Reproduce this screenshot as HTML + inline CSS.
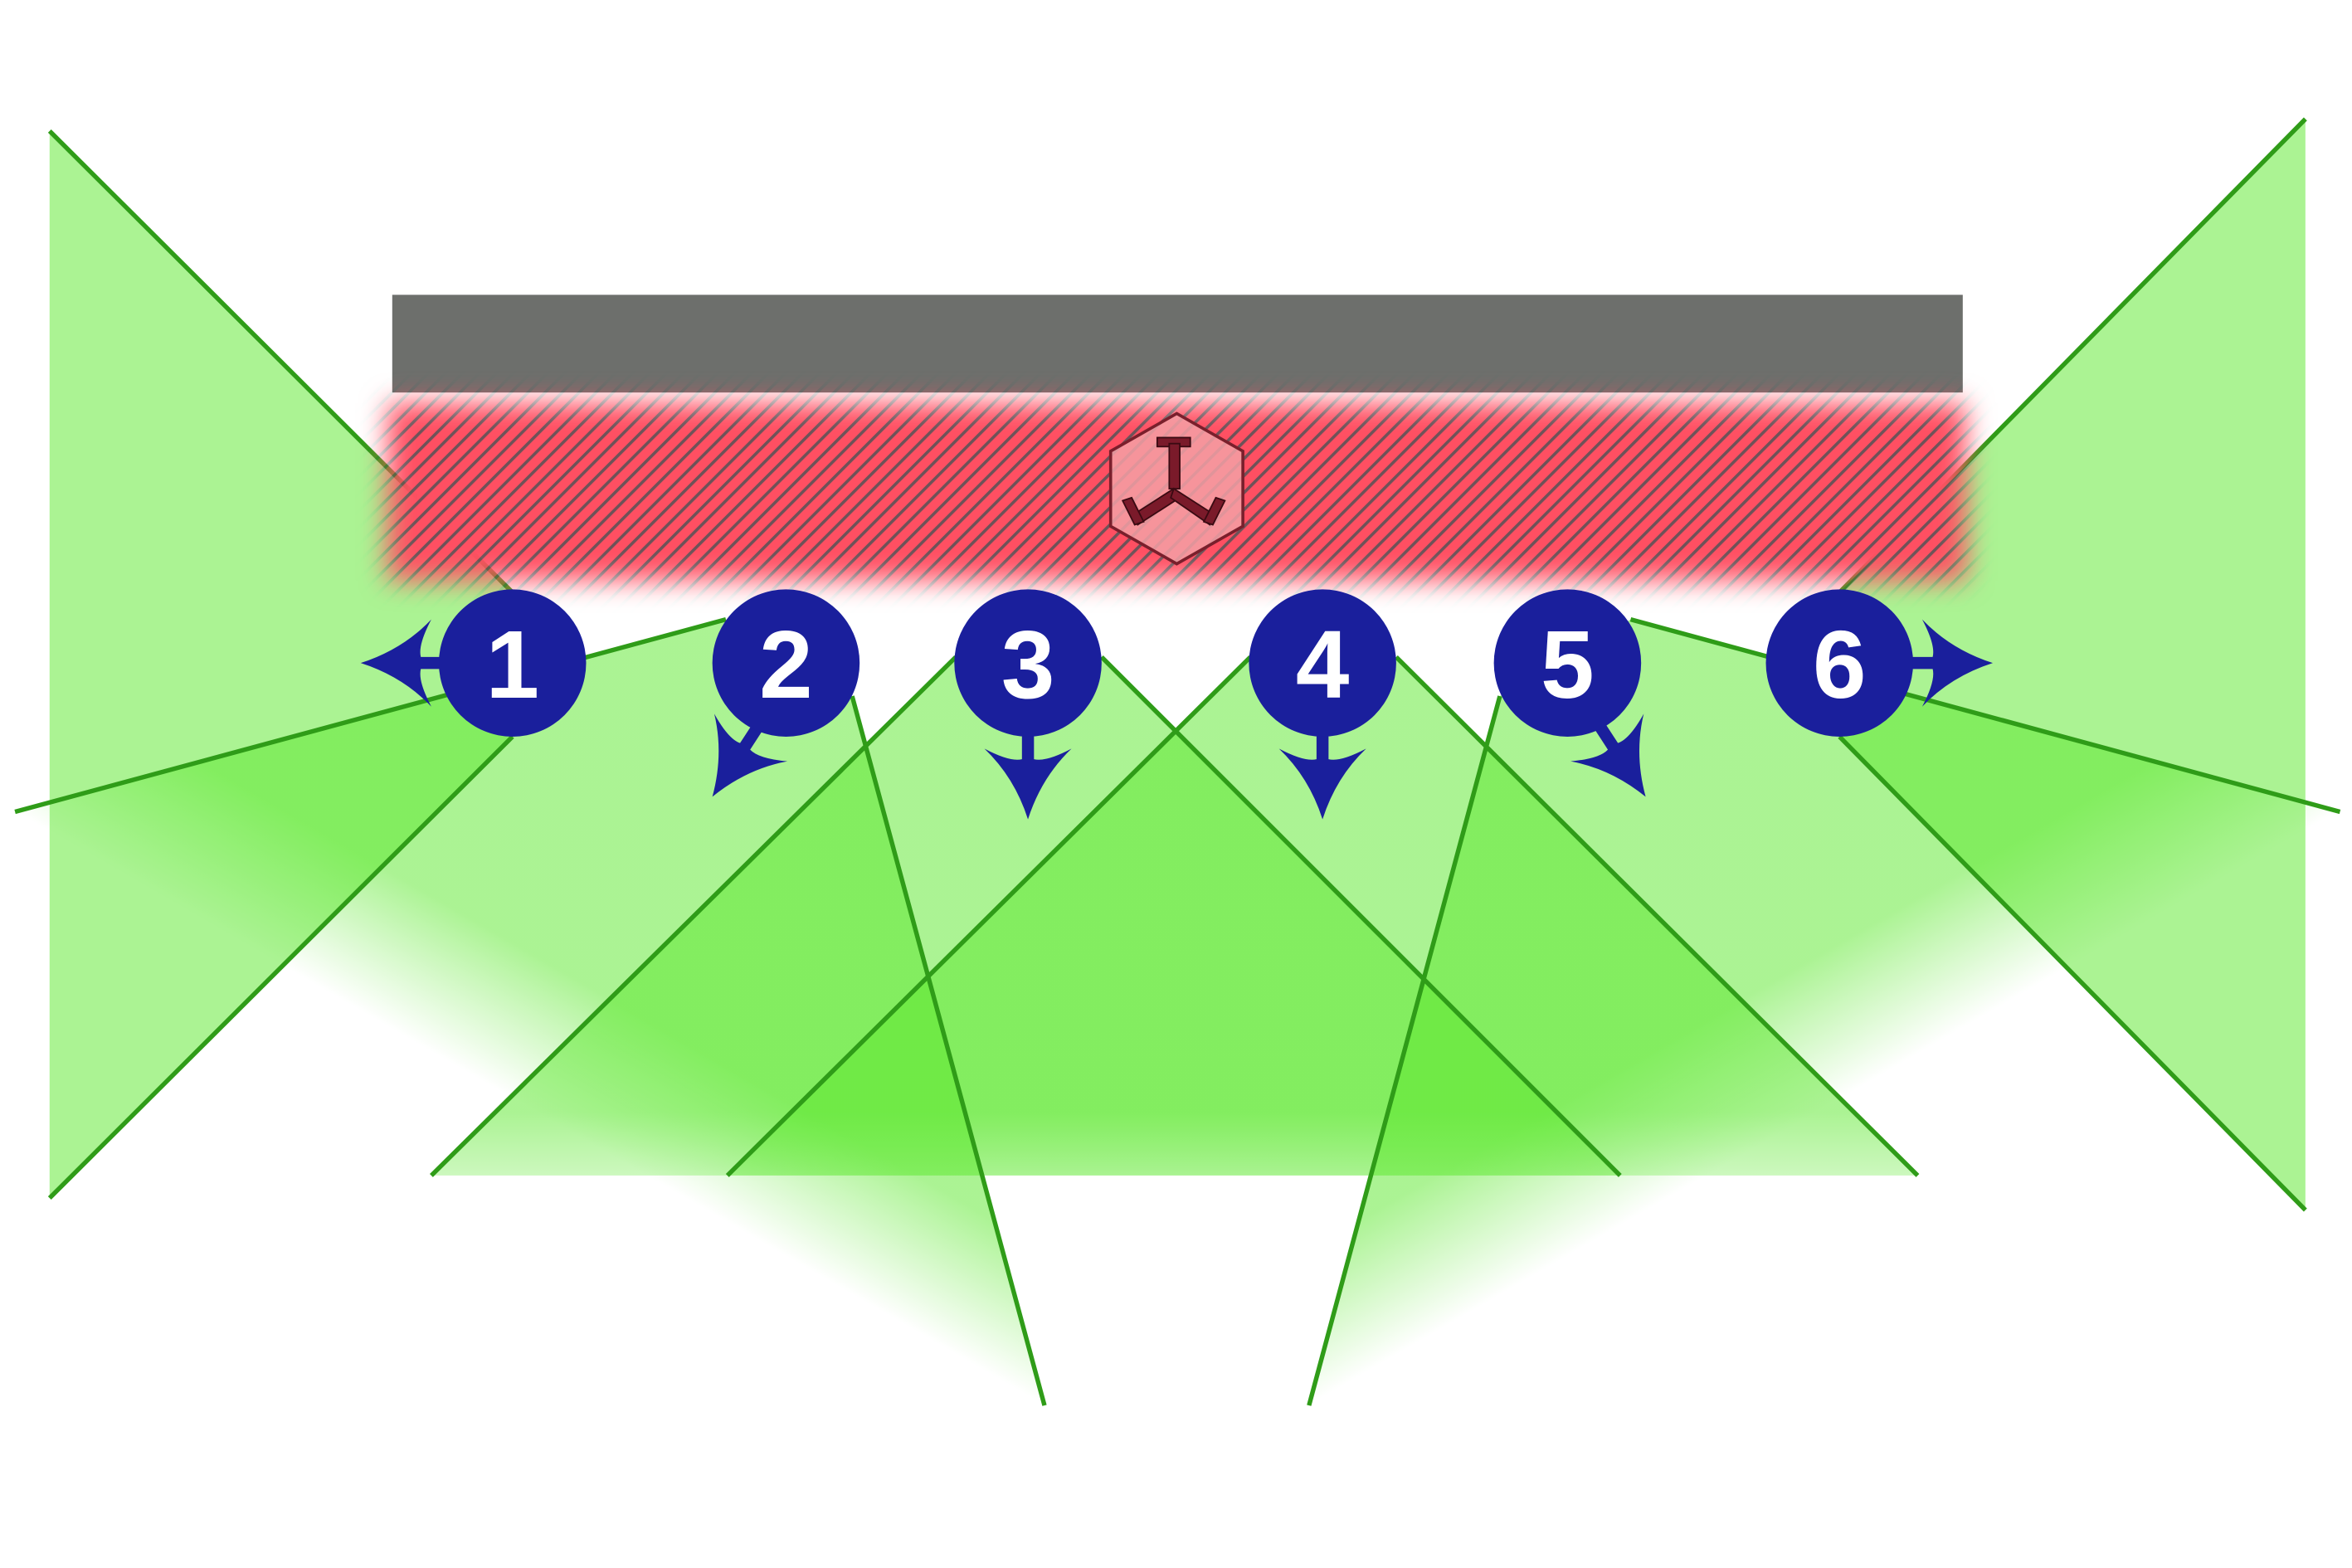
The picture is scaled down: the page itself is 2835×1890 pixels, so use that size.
<!DOCTYPE html>
<html><head><meta charset="utf-8"><style>
html,body{margin:0;padding:0;background:#fff}
svg{display:block}
</style></head><body>
<svg width="2835" height="1890" viewBox="0 0 1565 1043" xmlns="http://www.w3.org/2000/svg">
<defs>
<pattern id="stripes" patternUnits="userSpaceOnUse" width="8" height="8" patternTransform="rotate(-45)">
<rect width="8" height="8" fill="#ff4f62"/>
<rect width="8" height="2" fill="#6e5258"/>
</pattern>
<filter id="blur" x="-10%" y="-30%" width="120%" height="160%"><feGaussianBlur stdDeviation="9"/></filter>
<mask id="bandMask"><rect x="258" y="268" width="1050" height="118" fill="#fff" filter="url(#blur)"/></mask>
<linearGradient id="gDown" gradientUnits="userSpaceOnUse" x1="0" y1="740" x2="0" y2="785">
<stop offset="0" stop-color="#5ee830" stop-opacity="0.52"/><stop offset="1" stop-color="#5ee830" stop-opacity="0.3"/></linearGradient>
<linearGradient id="gL" gradientUnits="userSpaceOnUse" x1="397" y1="659" x2="352" y2="737">
<stop offset="0" stop-color="#5ee830" stop-opacity="0.52"/><stop offset="1" stop-color="#5ee830" stop-opacity="0"/></linearGradient>
<linearGradient id="gR" gradientUnits="userSpaceOnUse" x1="1169" y1="659" x2="1214" y2="737">
<stop offset="0" stop-color="#5ee830" stop-opacity="0.52"/><stop offset="1" stop-color="#5ee830" stop-opacity="0"/></linearGradient>
<path id="arrow" d="M0,0 Q-28,-9 -47,-29 Q-38,-12 -40,-4 L-58,-4 L-58,4 L-40,4 Q-38,12 -47,29 Q-28,9 0,0Z" fill="#1a1f9c"/>
</defs>

<rect x="261" y="196" width="1045" height="65" fill="#6d6f6c"/>

<g>
<polygon points="33,87 341,394 341,490 33,797" fill="#5ee830" fill-opacity="0.52"/>
<polygon points="1534,79 1224,394 1224,490 1534,805" fill="#5ee830" fill-opacity="0.52"/>
<polygon points="483,412 10,540 695,935 567,463" fill="url(#gL)"/>
<polygon points="1085,412 1557,540 871,935 998,463" fill="url(#gR)"/>
<polygon points="636,437 287,782 1078,782 733,437" fill="url(#gDown)"/>
<polygon points="832,437 484,782 1276,782 929,437" fill="url(#gDown)"/>
</g>
<g stroke="#2f9c18" stroke-width="3" fill="none">
<line x1="33" y1="87" x2="341" y2="394"/><line x1="341" y1="490" x2="33" y2="797"/>
<line x1="1534" y1="79" x2="1224" y2="394"/><line x1="1224" y1="490" x2="1534" y2="805"/>
<line x1="483" y1="412" x2="10" y2="540"/><line x1="567" y1="463" x2="695" y2="935"/>
<line x1="1085" y1="412" x2="1557" y2="540"/><line x1="998" y1="463" x2="871" y2="935"/>
<line x1="636" y1="437" x2="287" y2="782"/><line x1="733" y1="437" x2="1078" y2="782"/>
<line x1="832" y1="437" x2="484" y2="782"/><line x1="929" y1="437" x2="1276" y2="782"/>
</g>

<rect x="230" y="240" width="1105" height="170" fill="url(#stripes)" mask="url(#bandMask)"/>

<g transform="translate(783,325)">
<polygon points="0,-50 44,-25 44,25 0,50 -44,25 -44,-25" fill="#f4a0a6" fill-opacity="0.85" stroke="#7a1f2c" stroke-width="2"/>
<g fill="#7a1a2a" stroke="#3a0a12" stroke-width="1">
<rect x="-13" y="-34" width="22" height="6"/>
<rect x="-5" y="-30" width="7" height="30"/>
<polygon points="-2,0 -30,18 -26,24 2,6"/>
<polygon points="-2,0 26,18 22,24 -4,6"/>
<polygon points="-36,8 -30,6 -22,22 -28,24"/>
<polygon points="32,8 26,6 18,22 24,24"/>
</g>
</g>

<g>
<use href="#arrow" transform="translate(240,441) rotate(180)"/>
<use href="#arrow" transform="translate(474,530) rotate(123)"/>
<use href="#arrow" transform="translate(684,545) rotate(90)"/>
<use href="#arrow" transform="translate(880,545) rotate(90)"/>
<use href="#arrow" transform="translate(1095,530) rotate(57)"/>
<use href="#arrow" transform="translate(1326,441)"/>
</g>

<g font-family="Liberation Sans, sans-serif" font-weight="bold" font-size="64" fill="#fff" text-anchor="middle">
<g><circle cx="341" cy="441" r="49" fill="#1a1f9c"/><text x="341" y="464">1</text></g>
<g><circle cx="523" cy="441" r="49" fill="#1a1f9c"/><text x="523" y="464">2</text></g>
<g><circle cx="684" cy="441" r="49" fill="#1a1f9c"/><text x="684" y="464">3</text></g>
<g><circle cx="880" cy="441" r="49" fill="#1a1f9c"/><text x="880" y="464">4</text></g>
<g><circle cx="1043" cy="441" r="49" fill="#1a1f9c"/><text x="1043" y="464">5</text></g>
<g><circle cx="1224" cy="441" r="49" fill="#1a1f9c"/><text x="1224" y="464">6</text></g>
</g>
</svg>
</body></html>
